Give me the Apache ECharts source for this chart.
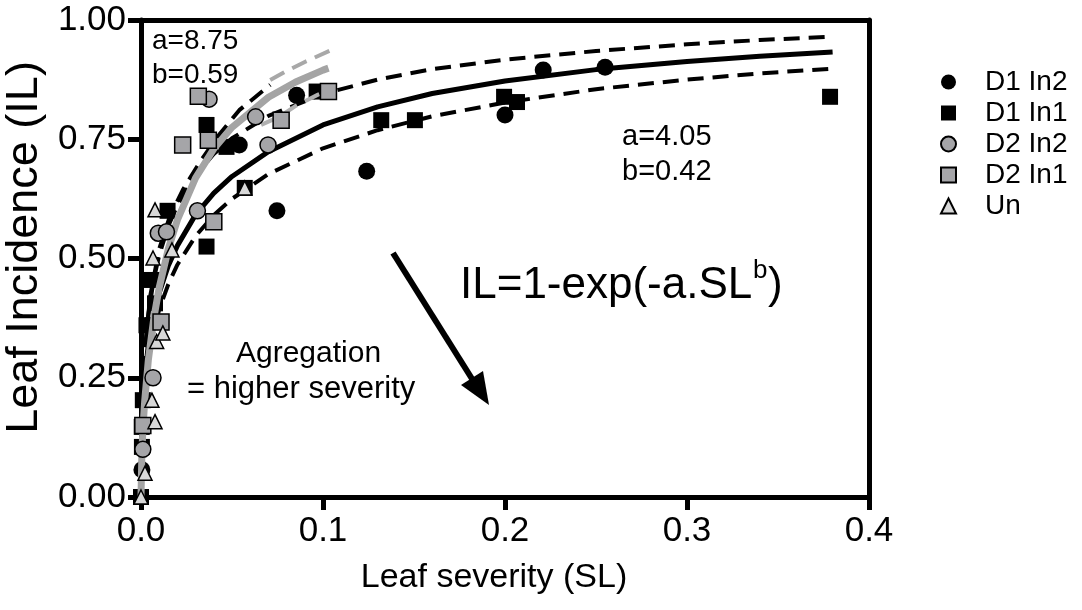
<!DOCTYPE html>
<html>
<head>
<meta charset="utf-8">
<script src="https://cdn.jsdelivr.net/npm/echarts@6/dist/echarts.min.js"></script>
<style>
  html, body { margin: 0; padding: 0; background: #fff; }
  #chart { width: 1082px; height: 610px; }
</style>
</head>
<body>
<div id="chart"></div>
<script>
const FONT = 'Liberation Sans, Arial, sans-serif'

// scatter data [SL, IL]
const d1In2 = [[0.0005, 0.057], [0.001, 0.15], [0.004, 0.36], [0.054, 0.738], [0.0747, 0.600], [0.0855, 0.842],
  [0.124, 0.683], [0.2, 0.801], [0.221, 0.895], [0.255, 0.901]]
const d1In1 = [[0, 0], [0.0005, 0.105], [0.0004, 0.147], [0.001, 0.203], [0.003, 0.36], [0.006, 0.455],
  [0.0077, 0.406], [0.0146, 0.60], [0.036, 0.525], [0.036, 0.78], [0.047, 0.734], [0.057, 0.648],
  [0.0965, 0.85], [0.132, 0.79], [0.1505, 0.79], [0.1995, 0.839], [0.2066, 0.828], [0.3786, 0.839]]
const d2In2 = [[0.001, 0.10], [0.0066, 0.25], [0.0095, 0.553], [0.014, 0.556], [0.031, 0.60],
  [0.0374, 0.834], [0.063, 0.797], [0.0698, 0.738]]
const d2In1 = [[0.001, 0.15], [0.011, 0.367], [0.0229, 0.738], [0.0315, 0.840], [0.037, 0.748],
  [0.040, 0.577], [0.077, 0.79], [0.103, 0.85]]
const un = [[0, 0], [0.0022, 0.05], [0.006, 0.203], [0.0077, 0.158], [0.0086, 0.326], [0.012, 0.344],
  [0.0066, 0.501], [0.0077, 0.602], [0.017, 0.518], [0.057, 0.648]]

// fitted curves
const fitAll = [[0, 0], [0.0005, 0.150], [0.001, 0.195], [0.002, 0.250], [0.004, 0.318], [0.007, 0.382],
  [0.01, 0.428], [0.015, 0.485], [0.02, 0.527], [0.03, 0.592], [0.04, 0.637], [0.05, 0.672], [0.07, 0.724],
  [0.1, 0.780], [0.13, 0.818], [0.16, 0.846], [0.2, 0.872], [0.25, 0.896], [0.3, 0.913], [0.34, 0.924], [0.38, 0.933]]
const fitAllHi = [[0, 0], [0.0005, 0.182], [0.001, 0.236], [0.002, 0.302], [0.004, 0.382], [0.007, 0.456],
  [0.01, 0.507], [0.015, 0.568], [0.02, 0.612], [0.03, 0.675], [0.04, 0.719], [0.05, 0.752], [0.07, 0.799],
  [0.1, 0.845], [0.13, 0.875], [0.16, 0.897], [0.2, 0.917], [0.25, 0.935], [0.3, 0.949], [0.34, 0.958], [0.38, 0.965]]
const fitAllLo = [[0, 0], [0.0005, 0.132], [0.001, 0.173], [0.002, 0.224], [0.004, 0.288], [0.007, 0.349],
  [0.01, 0.393], [0.015, 0.446], [0.02, 0.487], [0.03, 0.547], [0.04, 0.591], [0.05, 0.625], [0.07, 0.677],
  [0.1, 0.731], [0.13, 0.769], [0.16, 0.798], [0.2, 0.827], [0.25, 0.855], [0.3, 0.875], [0.34, 0.888], [0.38, 0.898]]
const fitSteep = [[0, 0], [0.002, 0.30], [0.005, 0.42], [0.01, 0.52], [0.016, 0.59], [0.023, 0.644],
  [0.032, 0.70], [0.042, 0.755], [0.054, 0.811], [0.071, 0.864]]
const fitAgg = [[0, 0], [0.0005, 0.094], [0.001, 0.138], [0.002, 0.200], [0.004, 0.286], [0.007, 0.374],
  [0.01, 0.439], [0.015, 0.520], [0.02, 0.581], [0.03, 0.669], [0.04, 0.730], [0.05, 0.775], [0.07, 0.838],
  [0.085, 0.870], [0.1, 0.895], [0.103, 0.899]]
const fitAggHi = [[0.071, 0.874], [0.08, 0.893], [0.09, 0.912], [0.104, 0.936]]
const fitAggLo = [[0.066, 0.78], [0.076, 0.797], [0.085, 0.82], [0.097, 0.843], [0.104, 0.855]]

const chart = echarts.init(document.getElementById('chart'))

const lineSeries = (data, color, width, dashed, z) => ({
  type: 'line',
  data,
  showSymbol: false,
  symbol: 'none',
  silent: true,
  z,
  lineStyle: { color, width, type: dashed ? [16, 9] : 'solid', cap: 'butt' },
  animation: false
})

const dotSeries = (name, data, symbol, fill, size, z) => ({
  name,
  type: 'scatter',
  data,
  symbol,
  symbolSize: size,
  clip: false,
  z,
  itemStyle: { color: fill, borderColor: '#000', borderWidth: fill === '#000' ? 0 : 1.5, opacity: 1 },
  animation: false
})

chart.setOption({
  backgroundColor: '#fff',
  textStyle: { fontFamily: FONT },
  grid: { left: 141, right: 213, top: 20, bottom: 113, containLabel: false, outerBoundsMode: 'none' },
  xAxis: [{
    type: 'value',
    min: 0,
    max: 0.4,
    interval: 0.1,
    name: 'Leaf severity (SL)',
    nameLocation: 'middle',
    nameGap: 64,
    nameTextStyle: { fontSize: 34, color: '#000', fontFamily: FONT, padding: [0, 22, 0, 0] },
    axisLine: { onZero: false, lineStyle: { color: '#000', width: 5 } },
    axisTick: { length: 13, lineStyle: { color: '#000', width: 5 } },
    axisLabel: { fontSize: 35, color: '#000', margin: 17, fontFamily: FONT, formatter: v => v.toFixed(1) },
    splitLine: { show: false }
  }, {
    type: 'value',
    position: 'top',
    min: 0,
    max: 0.4,
    axisLine: { onZero: false, lineStyle: { color: '#000', width: 5 } },
    axisTick: { show: false },
    axisLabel: { show: false },
    splitLine: { show: false }
  }],
  yAxis: [{
    type: 'value',
    min: 0,
    max: 1,
    interval: 0.25,
    name: 'Leaf Incidence (IL)',
    nameLocation: 'middle',
    nameGap: 86,
    nameTextStyle: { fontSize: 45, color: '#000', fontFamily: FONT, padding: [0, 0, 0, 22] },
    axisLine: { show: true, onZero: false, lineStyle: { color: '#000', width: 5 } },
    axisTick: { show: true, length: 13, lineStyle: { color: '#000', width: 5 } },
    axisLabel: { fontSize: 35, color: '#000', margin: 15, fontFamily: FONT, formatter: v => v.toFixed(2) },
    splitLine: { show: false }
  }, {
    type: 'value',
    position: 'right',
    min: 0,
    max: 1,
    axisLine: { show: true, onZero: false, lineStyle: { color: '#000', width: 5 } },
    axisTick: { show: false },
    axisLabel: { show: false },
    splitLine: { show: false }
  }],
  legend: {
    data: ['D1 In2', 'D1 In1', 'D2 In2', 'D2 In1', 'Un'],
    orient: 'vertical',
    left: 935,
    top: 63,
    itemWidth: 15,
    itemHeight: 15,
    itemGap: 3,
    selectedMode: false,
    textStyle: { fontSize: 28, lineHeight: 28, color: '#000', fontFamily: FONT, padding: [0, 0, 0, 24] }
  },
  series: [
    lineSeries(fitAllHi, '#000', 4, true, 2),
    lineSeries(fitAllLo, '#000', 4, true, 2),
    lineSeries(fitSteep, '#000', 4, true, 2),
    lineSeries(fitAll, '#000', 5, false, 2),
    dotSeries('D1 In2', d1In2, 'circle', '#000', 17, 3),
    dotSeries('D1 In1', d1In1, 'rect', '#000', 16, 3),
    lineSeries(fitAgg, '#a4a4a4', 7, false, 4),
    lineSeries(fitAggHi, '#a8a8a8', 4, true, 4),
    lineSeries(fitAggLo, '#b0b0b0', 4, true, 4),
    dotSeries('D2 In2', d2In2, 'circle', '#a5a5a8', 16, 5),
    dotSeries('D2 In1', d2In1, 'rect', '#a5a5a8', 16, 5),
    dotSeries('Un', un, 'triangle', '#d8d8d8', 14, 5)
  ],
  graphic: [
    { type: 'text', left: 152, top: 27, z: 10, style: { text: 'a=8.75', font: '28px ' + FONT, fill: '#000' } },
    { type: 'text', left: 152, top: 61, z: 10, style: { text: 'b=0.59', font: '28px ' + FONT, fill: '#000' } },
    { type: 'text', left: 622, top: 122, z: 10, style: { text: 'a=4.05', font: '29px ' + FONT, fill: '#000' } },
    { type: 'text', left: 622, top: 157, z: 10, style: { text: 'b=0.42', font: '29px ' + FONT, fill: '#000' } },
    { type: 'text', left: 460, top: 264, z: 10, style: { text: 'IL=1-exp(-a.SL', font: '44px ' + FONT, fill: '#000' } },
    { type: 'text', left: 753, top: 258, z: 10, style: { text: 'b', font: '26px ' + FONT, fill: '#000' } },
    { type: 'text', left: 768, top: 264, z: 10, style: { text: ')', font: '44px ' + FONT, fill: '#000' } },
    { type: 'text', left: 236, top: 339, z: 10, style: { text: 'Agregation', font: '30px ' + FONT, fill: '#000' } },
    { type: 'text', left: 187, top: 374, z: 10, style: { text: '= higher severity', font: '31px ' + FONT, fill: '#000' } },
    { type: 'line', z: 10, shape: { x1: 393, y1: 253, x2: 474, y2: 382 }, style: { stroke: '#000', lineWidth: 6 } },
    { type: 'polygon', z: 10, shape: { points: [[489, 405], [461, 385], [483, 371]] }, style: { fill: '#000' } }
  ]
})
</script>
</body>
</html>
